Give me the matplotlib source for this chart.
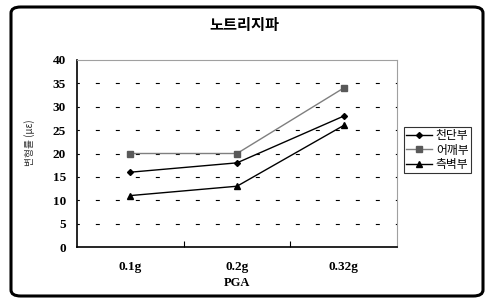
import matplotlib.pyplot as plt
from matplotlib.patches import FancyBboxPatch

# data
categories = ['0.1g', '0.2g', '0.32g']
series_names = ['천단부', '어깨부', '측벽부']
crown = [16, 18, 28]
shoulder = [20, 20, 34]
sidewall = [11, 13, 26]

kfont = ['Noto Sans CJK KR', 'DejaVu Sans']
sfont = ['Liberation Serif', 'DejaVu Serif']

fig = plt.figure(figsize=(4.87, 3.04), dpi=100)
W, H = 487, 304

# rounded outer frame
frame = FancyBboxPatch((11 / W, 8 / H), 472 / W, 289 / H,
                       boxstyle='round,pad=0,rounding_size=0.02',
                       transform=fig.transFigure, fill=False,
                       edgecolor='black', linewidth=2.2)
fig.patches.append(frame)

ax = fig.add_axes([77 / W, 1 - 247 / H, 320 / W, 187 / H])
x = range(len(categories))

ax.plot(x, crown, color='black', lw=1, marker='D', ms=3, label=series_names[0])
ax.plot(x, shoulder, color='#7f7f7f', lw=1, marker='s', ms=5,
        mfc='#595959', mec='#595959', label=series_names[1])
ax.plot(x, sidewall, color='black', lw=1, marker='^', ms=5, label=series_names[2])

ax.set_xlim(-0.5, 2.5)
ax.set_ylim(0, 40)
ax.set_yticks(range(0, 45, 5))
for y in range(5, 40, 5):
    ax.axhline(y, color='black', lw=0.8, ls=(1.5, (3.6, 14.4)), zorder=0)

ax.set_xticks([0.5, 1.5])
ax.set_xticklabels([])
ax.tick_params(axis='x', direction='in', length=4, width=0.8)
ax.tick_params(axis='y', length=0, pad=8)
for i, c in enumerate(categories):
    ax.text(i, -4.2, c, ha='center', va='center', fontsize=9.5,
            fontweight='bold', family=sfont)
ax.text(1, -7.8, 'PGA', ha='center', va='center', fontsize=9,
        fontweight='bold', family=sfont)
for lbl in ax.get_yticklabels():
    lbl.set_family(sfont)
    lbl.set_fontweight('bold')
    lbl.set_fontsize(9.5)

ax.spines['left'].set_linewidth(1.2)
ax.spines['bottom'].set_linewidth(1.2)
ax.spines['top'].set_color('#a0a0a0')
ax.spines['right'].set_color('#a0a0a0')

ax.set_ylabel('변형률 (με)', fontsize=7, family=kfont, color='#333333')
ax.yaxis.set_label_coords(-42 / 320, 0.56)

fig.text(244 / W, 1 - 25 / H, '노트리지파', ha='center', va='center',
         fontsize=11, fontweight='bold', family=kfont)

leg = fig.legend(loc='upper left', bbox_to_anchor=(404 / W, 1 - 127 / H),
                 prop={'family': kfont, 'size': 8.5}, frameon=True,
                 fancybox=False, edgecolor='black', handlelength=2.2,
                 handletextpad=0.3, borderpad=0.2, labelspacing=0.1,
                 borderaxespad=0)
leg.get_frame().set_linewidth(0.8)

fig.savefig('out.png', dpi=100)
